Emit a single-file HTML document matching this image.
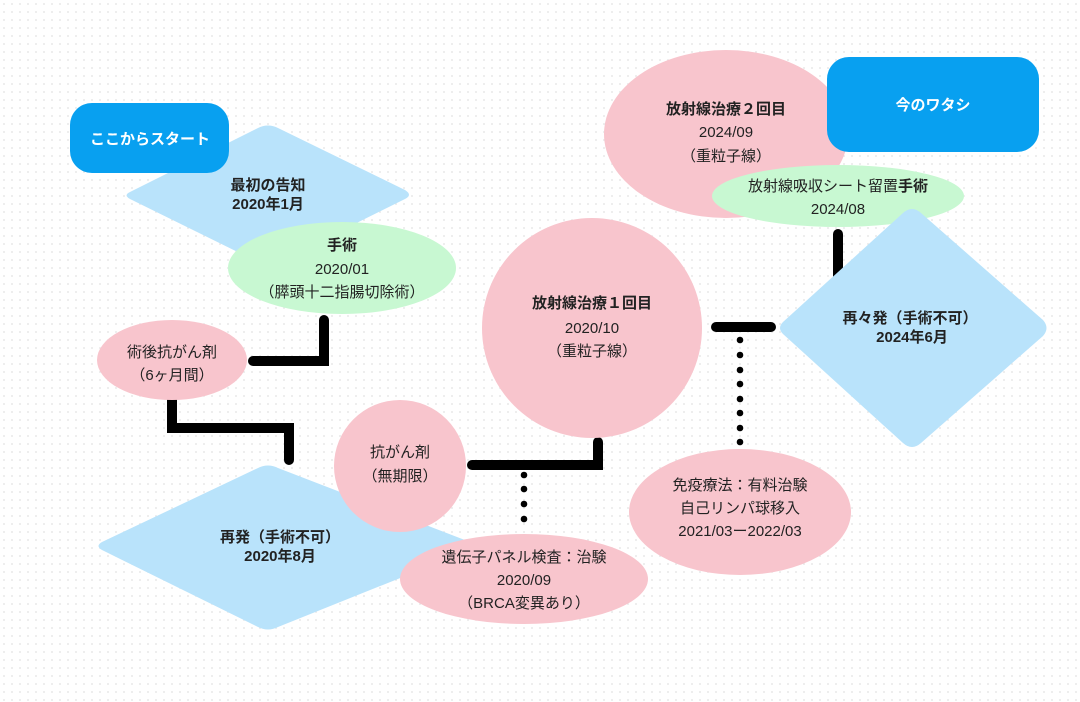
<!DOCTYPE html>
<html><head><meta charset="utf-8"><style>
html,body{margin:0;padding:0;background:#fff}
svg{display:block}
text{font-family:"Liberation Sans","Noto Sans CJK JP",sans-serif;font-size:15px;fill:#222;text-anchor:middle}
.b{font-weight:bold}
.w{fill:#fff;font-weight:bold;font-size:15px}
</style></head><body>
<svg width="1080" height="702" viewBox="0 0 1080 702" xmlns="http://www.w3.org/2000/svg">
<defs><pattern id="d" width="8" height="8" patternUnits="userSpaceOnUse"><circle cx="4" cy="4" r="0.9" fill="#e2e2e2"/></pattern></defs>
<rect width="1080" height="702" fill="#fff"/>
<rect width="1080" height="702" fill="url(#d)"/>

<g stroke="#000" stroke-width="10" fill="none" stroke-linecap="round" stroke-linejoin="miter">
<polyline points="324,320 324,361 253,361"/>
<polyline points="172,400 172,428 289,428 289,460"/>
<polyline points="472,465 598,465 598,442"/>
<line x1="716" y1="327" x2="771" y2="327"/>
<line x1="838" y1="234" x2="838" y2="277"/>
</g>
<g fill="#000">
<circle cx="524" cy="475" r="3.3"/><circle cx="524" cy="489" r="3.3"/><circle cx="524" cy="504" r="3.3"/><circle cx="524" cy="519" r="3.3"/>
<circle cx="740" cy="340" r="3.3"/><circle cx="740" cy="355" r="3.3"/><circle cx="740" cy="370" r="3.3"/><circle cx="740" cy="384" r="3.3"/><circle cx="740" cy="399" r="3.3"/><circle cx="740" cy="413" r="3.3"/><circle cx="740" cy="428" r="3.3"/><circle cx="740" cy="442" r="3.3"/>
</g>

<path d="M130,192 Q123,195 130,199 L258,262 Q268,267 278,262 L405,199 Q413,195 405,190 L278,128 Q268,123 258,128 Z" fill="#b9e3fb"/>
<rect x="70" y="103" width="159" height="70" rx="22" fill="#08a0f0"/>
<text x="150" y="144" class="w">ここからスタート</text>
<text x="268" y="190" class="b">最初の告知</text>
<text x="268" y="209" class="b">2020年1月</text>
<ellipse cx="342" cy="268" rx="114" ry="46" fill="#c8f8d2"/>
<text x="342" y="250" class="b">手術</text>
<text x="342" y="274">2020/01</text>
<text x="342" y="297">（膵頭十二指腸切除術）</text>
<ellipse cx="172" cy="360" rx="75" ry="40" fill="#f8c5cd"/>
<text x="172" y="357">術後抗がん剤</text>
<text x="172" y="380">（6ヶ月間）</text>

<path d="M102,542 Q95,546 102,550 L258,627 Q268,632 278,627 L470,550 Q480,546 470,542 L278,468 Q268,463 258,468 Z" fill="#b9e3fb"/>
<text x="280" y="542" class="b">再発（手術不可）</text>
<text x="280" y="561" class="b">2020年8月</text>
<circle cx="400" cy="466" r="66" fill="#f8c5cd"/>
<text x="400" y="457">抗がん剤</text>
<text x="400" y="481">（無期限）</text>
<ellipse cx="524" cy="579" rx="124" ry="45" fill="#f8c5cd"/>
<text x="524" y="562">遺伝子パネル検査：治験</text>
<text x="524" y="585">2020/09</text>
<text x="524" y="608">（BRCA変異あり）</text>

<circle cx="592" cy="328" r="110" fill="#f8c5cd"/>
<text x="592" y="308" class="b">放射線治療１回目</text>
<text x="592" y="333">2020/10</text>
<text x="592" y="356">（重粒子線）</text>
<ellipse cx="740" cy="512" rx="111" ry="63" fill="#f8c5cd"/>
<text x="740" y="490">免疫療法：有料治験</text>
<text x="740" y="513">自己リンパ球移入</text>
<text x="740" y="536">2021/03ー2022/03</text>

<ellipse cx="726" cy="134" rx="122" ry="84" fill="#f8c5cd"/>
<text x="726" y="114" class="b">放射線治療２回目</text>
<text x="726" y="137">2024/09</text>
<text x="726" y="161">（重粒子線）</text>
<rect x="827" y="57" width="212" height="95" rx="22" fill="#08a0f0"/>
<text x="933" y="110" class="w">今のワタシ</text>
<ellipse cx="838" cy="196" rx="126" ry="31" fill="#c8f8d2"/>
<text x="838" y="191">放射線吸収シート留置<tspan class="b">手術</tspan></text>
<text x="838" y="214">2024/08</text>
<path d="M783,322 Q777,328 783,334 L903,443 Q912,451 921,443 L1043,336 Q1050,328 1043,320 L921,213 Q912,205 903,213 Z" fill="#b9e3fb"/>
<text x="910" y="323" class="b">再々発（手術不可）</text>
<text x="912" y="342" class="b">2024年6月</text>
</svg>
</body></html>
